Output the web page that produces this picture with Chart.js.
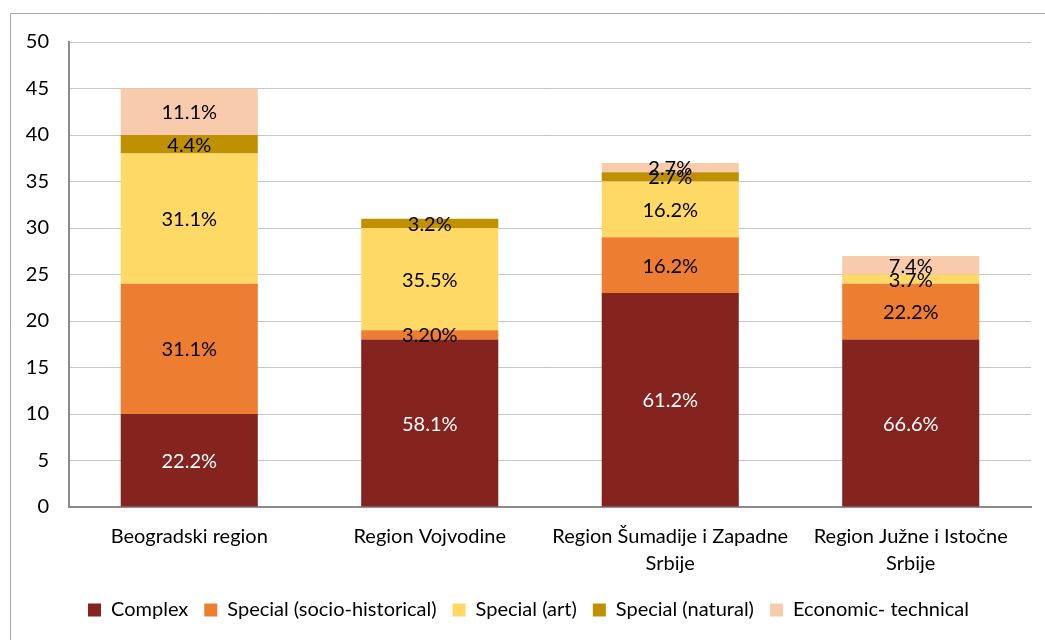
<!DOCTYPE html>
<html>
<head>
<meta charset="utf-8">
<script src="https://cdn.jsdelivr.net/npm/chart.js@4/dist/chart.umd.min.js"></script>
<style>
  html, body { margin: 0; padding: 0; background: #ffffff; }
  #wrap { width: 1045px; height: 640px; position: relative; }
</style>
</head>
<body>
<div id="wrap"><canvas id="c" width="1045" height="640"></canvas></div>
<script>
const categories = [
  ['Beogradski region'],
  ['Region Vojvodine'],
  ['Region Šumadije i Zapadne', 'Srbije'],
  ['Region Južne i Istočne', 'Srbije']
];
const seriesNames = ['Complex', 'Special (socio-historical)', 'Special (art)', 'Special (natural)', 'Economic- technical'];

const complexValues  = [10, 18, 23, 18];
const socioValues    = [14, 1, 6, 6];
const artValues      = [14, 11, 6, 1];
const naturalValues  = [2, 1, 1, 0];
const economicValues = [5, 0, 1, 2];

const complexLabels  = ['22.2%', '58.1%', '61.2%', '66.6%'];
const socioLabels    = ['31.1%', '3.20%', '16.2%', '22.2%'];
const artLabels      = ['31.1%', '35.5%', '16.2%', '3.7%'];
const naturalLabels  = ['4.4%', '3.2%', '2.7%', ''];
const economicLabels = ['11.1%', '', '2.7%', '7.4%'];

const yTicks = [0, 5, 10, 15, 20, 25, 30, 35, 40, 45, 50];

const colors = ['#85231F', '#ED7D31', '#FED966', '#BF9000', '#F8CBAD'];
const labelColors = ['#ffffff', '#000000', '#000000', '#000000', '#000000'];
const allValues = [complexValues, socioValues, artValues, naturalValues, economicValues];
const allLabels = [complexLabels, socioLabels, artLabels, naturalLabels, economicLabels];

const FONT = 'Lato, "Open Sans", sans-serif';
const FS = 20;
const LEG_PAD = 16;
const PAD_LEFT = 26;

const frame = {
  id: 'frame',
  beforeDraw(chart) {
    const ctx = chart.ctx;
    ctx.save();
    ctx.fillStyle = '#ffffff';
    ctx.fillRect(0, 0, chart.width, chart.height);
    ctx.strokeStyle = '#a6a6a6';
    ctx.lineWidth = 1;
    ctx.beginPath();
    ctx.moveTo(10.5, chart.height);
    ctx.lineTo(10.5, 13.5);
    ctx.lineTo(chart.width, 13.5);
    ctx.stroke();
    ctx.restore();
  }
};

const barLabels = {
  id: 'barLabels',
  afterDatasetsDraw(chart) {
    const ctx = chart.ctx;
    ctx.save();
    ctx.font = FS + 'px ' + FONT;
    ctx.textAlign = 'center';
    ctx.textBaseline = 'middle';
    chart.data.datasets.forEach((ds, di) => {
      const meta = chart.getDatasetMeta(di);
      meta.data.forEach((el, i) => {
        const txt = allLabels[di][i];
        if (!txt || !ds.data[i]) return;
        ctx.fillStyle = labelColors[di];
        ctx.fillText(txt, el.x, (el.y + el.base) / 2 + 1);
      });
    });
    ctx.restore();
  }
};

new Chart(document.getElementById('c'), {
  type: 'bar',
  data: {
    labels: categories,
    datasets: seriesNames.map((name, i) => ({
      label: name,
      data: allValues[i],
      backgroundColor: colors[i],
      borderWidth: 0,
      categoryPercentage: 1,
      barPercentage: 0.57
    }))
  },
  options: {
    responsive: false,
    animation: false,
    devicePixelRatio: 1,
    layout: { padding: { top: 42, right: 14, bottom: 10, left: PAD_LEFT } },
    plugins: {
      legend: {
        position: 'bottom',
        labels: {
          boxWidth: 13,
          boxHeight: 13,
          padding: LEG_PAD,
          color: '#000000',
          font: { family: FONT, size: FS }
        }
      },
      tooltip: { enabled: false }
    },
    scales: {
      x: {
        stacked: true,
        grid: { display: false },
        border: { display: true, color: '#8c8c8c', width: 2 },
        ticks: {
          color: '#000000',
          padding: 8,
          maxRotation: 0,
          autoSkip: false,
          font: { family: FONT, size: FS, lineHeight: 1.35 }
        },
        afterFit(scale) { scale.height = 93 - LEG_PAD; }
      },
      y: {
        stacked: true,
        min: 0,
        max: 50,
        afterBuildTicks(scale) { scale.ticks = yTicks.map(v => ({ value: v })); },
        grid: { color: '#c6c6c6', lineWidth: 1, drawTicks: false },
        border: { display: true, color: '#8c8c8c', width: 2 },
        ticks: {
          color: '#000000',
          padding: 20,
          font: { family: FONT, size: FS }
        },
        afterFit(scale) { scale.width = 69 - PAD_LEFT; }
      }
    }
  },
  plugins: [frame, barLabels]
});
</script>
</body>
</html>
